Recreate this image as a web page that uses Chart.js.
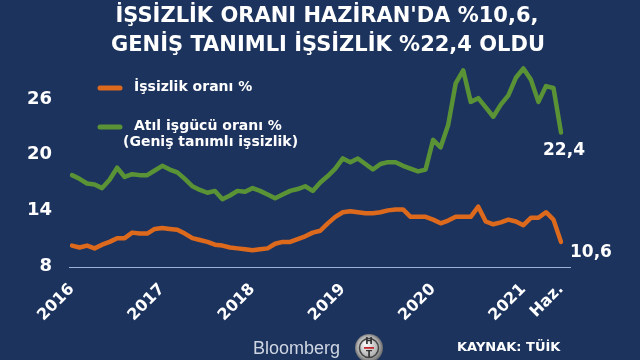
<!DOCTYPE html>
<html><head><meta charset="utf-8">
<script src="https://cdn.jsdelivr.net/npm/chart.js@4"></script>
<style>html,body{margin:0;padding:0;background:#1c335e;}#wrap{width:640px;height:360px;position:relative}</style>
</head><body><div id="wrap"><canvas id="c" width="640" height="360"></canvas></div>
<script>
const titleLines = ["İŞSİZLİK ORANI HAZİRAN'DA %10,6,", "GENİŞ TANIMLI İŞSİZLİK %22,4 OLDU"];
const seriesNames = ["İşsizlik oranı %", "Atıl işgücü oranı %"];
const legendNote = "(Geniş tanımlı işsizlik)";
const years = [2016, 2017, 2018, 2019, 2020, 2021];
const months = [];
years.forEach(y => { for (let m = 1; m <= 12; m++) { if (y === 2021 && m > 6) break; months.push(y + "-" + String(m).padStart(2, "0")); } });
const unemployment = [
  10.2, 10.0, 10.2, 9.9, 10.3, 10.6, 11.0, 11.0, 11.6, 11.5, 11.5, 12.0,
  12.1, 12.0, 11.9, 11.5, 11.0, 10.8, 10.6, 10.3, 10.2, 10.0, 9.9, 9.8,
  9.7, 9.8, 9.9, 10.4, 10.6, 10.6, 10.9, 11.2, 11.6, 11.8, 12.6, 13.3,
  13.8, 13.9, 13.8, 13.7, 13.7, 13.8, 14.0, 14.1, 14.1, 13.3, 13.3, 13.3,
  13.0, 12.6, 12.9, 13.3, 13.3, 13.3, 14.4, 12.8, 12.5, 12.7, 13.0, 12.8,
  12.4, 13.2, 13.2, 13.8, 13.0, 10.6
];
const underutilization = [
  17.8, 17.4, 16.9, 16.8, 16.4, 17.3, 18.6, 17.6, 17.9, 17.8, 17.8, 18.3,
  18.8, 18.4, 18.1, 17.4, 16.6, 16.2, 15.9, 16.1, 15.2, 15.6, 16.1, 16.0,
  16.4, 16.1, 15.7, 15.3, 15.7, 16.1, 16.3, 16.6, 16.1, 17.0, 17.7, 18.5,
  19.6, 19.2, 19.6, 19.0, 18.4, 19.0, 19.2, 19.2, 18.8, 18.5, 18.2, 18.4,
  21.6, 20.8, 23.2, 27.7, 29.1, 25.7, 26.1, 25.1, 24.1, 25.4, 26.4, 28.3,
  29.3, 28.1, 25.7, 27.4, 27.2, 22.4
];
const xTickLabels = {"2016-01":"2016","2017-01":"2017","2018-01":"2018","2019-01":"2019","2020-01":"2020","2021-01":"2021","2021-06":"Haz."};
const yTicks = [8, 14, 20, 26];
const endLabels = ["10,6", "22,4"];
const source = "KAYNAK: TÜİK";
const brand = "Bloomberg";

const BG = "#1c335e", ORANGE = "#dd6a1c", GREEN = "#5a9336";
const FONT = "'DejaVu Sans', Verdana, sans-serif";

const decor = {
  id: "decor",
  beforeDraw(chart) {
    const c = chart.ctx;
    c.save(); c.fillStyle = BG; c.fillRect(0, 0, chart.width, chart.height); c.restore();
  },
  beforeDatasetsDraw(chart) {
    const c = chart.ctx, a = chart.chartArea;
    c.save();
    c.strokeStyle = "#9fb1d2"; c.lineWidth = 1;
    c.beginPath(); c.moveTo(a.left - 3, a.bottom + 1.5); c.lineTo(a.right + 10, a.bottom + 1.5); c.stroke();
    c.restore();
  },
  afterDraw(chart) {
    const c = chart.ctx;
    c.save();
    c.fillStyle = "#ffffff"; c.textAlign = "center"; c.textBaseline = "middle";
    c.font = "bold 21px " + FONT;
    c.fillText(titleLines[0], 327, 17);
    c.fillText(titleLines[1], 328, 46);
    // legend
    c.lineCap = "round"; c.lineWidth = 5;
    c.strokeStyle = ORANGE; c.beginPath(); c.moveTo(100, 88); c.lineTo(120, 88); c.stroke();
    c.strokeStyle = GREEN; c.beginPath(); c.moveTo(100, 127); c.lineTo(120, 127); c.stroke();
    c.textAlign = "left"; c.font = "bold 14px " + FONT;
    c.fillText(seriesNames[0], 134, 87);
    c.fillText(seriesNames[1], 134, 126);
    c.fillText(legendNote, 123, 142);
    // end labels
    c.font = "bold 17px " + FONT;
    const p0 = chart.getDatasetMeta(0).data[unemployment.length - 1];
    const p1 = chart.getDatasetMeta(1).data[underutilization.length - 1];
    c.textAlign = "left";
    c.fillText(endLabels[0], p0.x + 9, p0.y + 11);
    c.textAlign = "center";
    c.fillText(endLabels[1], p1.x + 3, p1.y + 18);
    // footer
    c.textAlign = "left";
    c.font = "bold 13px " + FONT;
    c.fillText(source, 457, 348);
    c.fillStyle = "#cfd6e2";
    c.font = "18px 'Liberation Sans', Arial, sans-serif";
    c.fillText(brand, 253, 349);
    // HT logo
    const g = c.createRadialGradient(366, 344, 2, 369, 348, 15);
    g.addColorStop(0, "#f2f2f2"); g.addColorStop(0.7, "#a8a8a8"); g.addColorStop(1, "#5a5a5a");
    c.fillStyle = g; c.beginPath(); c.arc(369, 348, 14, 0, Math.PI * 2); c.fill();
    c.strokeStyle = "#444"; c.lineWidth = 1.5; c.beginPath(); c.arc(369, 348, 9.5, 0, Math.PI * 2); c.stroke();
    c.fillStyle = "#333"; c.textAlign = "center"; c.font = "bold 9px " + FONT;
    c.fillText("H", 369, 342);
    c.fillText("T", 369, 355);
    c.fillStyle = "#c0282d"; c.fillRect(364, 347, 10, 1.8);
    c.restore();
  }
};

new Chart(document.getElementById("c"), {
  type: "line",
  data: {
    labels: months,
    datasets: [
      { label: seriesNames[0], data: unemployment, borderColor: ORANGE, borderWidth: 4.5, pointRadius: 0, tension: 0, borderJoinStyle: "round", borderCapStyle: "round" },
      { label: seriesNames[1], data: underutilization, borderColor: GREEN, borderWidth: 4.5, pointRadius: 0, tension: 0, borderJoinStyle: "round", borderCapStyle: "round" }
    ]
  },
  options: {
    responsive: false, animation: false, devicePixelRatio: 1,
    layout: { padding: { top: 62, right: 79, left: 0, bottom: 0 } },
    plugins: { legend: { display: false }, title: { display: false }, tooltip: { enabled: false } },
    scales: {
      x: {
        type: "category", offset: false,
        grid: { display: false }, border: { display: false },
        ticks: {
          autoSkip: false, maxRotation: 45, minRotation: 45, color: "#ffffff", padding: 6,
          font: { family: FONT, size: 16, weight: "bold" },
          callback: (v, i) => xTickLabels[months[i]] ?? null
        },
        afterFit: s => { s.height = 94; }
      },
      y: {
        min: 8, max: 30,
        grid: { display: false }, border: { display: false },
        afterBuildTicks: s => { s.ticks = yTicks.map(v => ({ value: v })); },
        ticks: { color: "#ffffff", padding: 12, font: { family: FONT, size: 18, weight: "bold" } },
        afterFit: s => { s.width = 72; }
      }
    }
  },
  plugins: [decor]
});
</script></body></html>
